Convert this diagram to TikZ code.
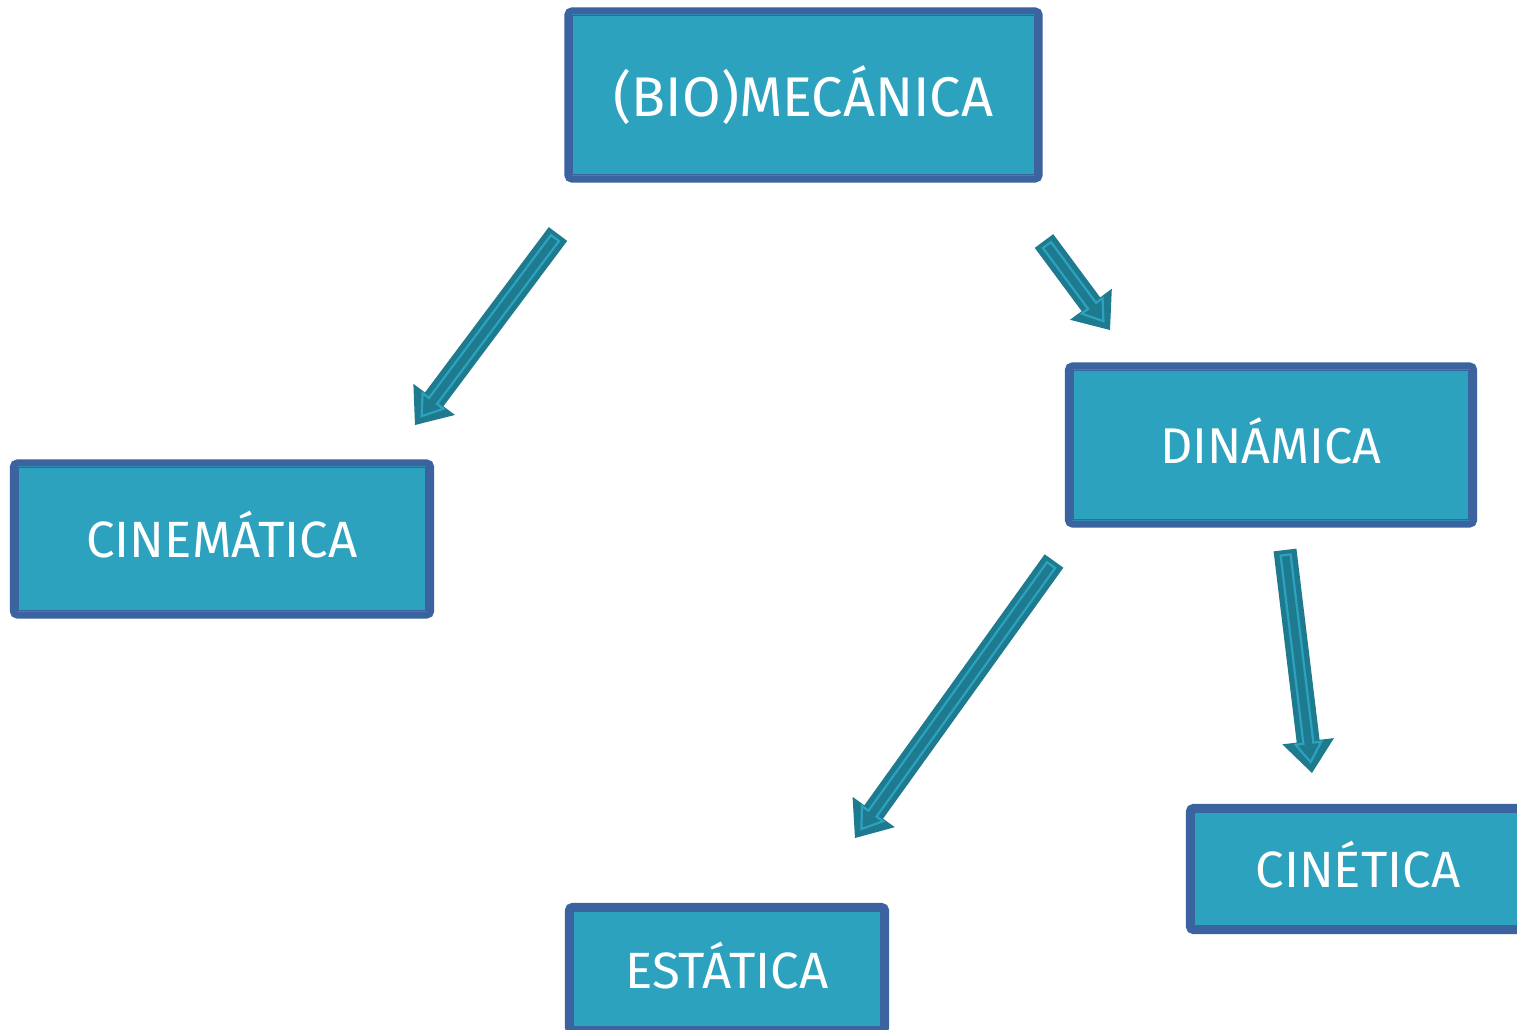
\documentclass[tikz,border=0pt]{standalone}
\usepackage{fontspec}
\setmainfont{Fira Sans}
\usetikzlibrary{calc}
\definecolor{boxfill}{HTML}{2CA2BF}
\definecolor{boxedge}{HTML}{3A63A0}
\definecolor{arrowdark}{HTML}{1E7A8E}
\definecolor{arrowlight}{HTML}{2CA2BF}
\tikzset{
  conceptbox/.style={draw=boxedge, fill=boxfill, line width=0.07cm, rounded corners=0.04cm,
    inner sep=0pt, text=white, text height=10.8pt, text depth=0pt},
  innerline/.style={draw=boxedge, line width=0.018cm},
  arrowbody/.style={fill=arrowdark},
  arrowinner/.style={draw=arrowlight, line width=0.022cm, line join=miter},
}
\newcommand\blockarrow[2]{%
  \coordinate (ba-h) at ($(#2)!0.32cm!(#1)$);
  \fill[arrowbody] ($(#1)!0.115cm!90:(#2)$) -- ($(ba-h)!0.115cm!90:(#2)$) -- ($(ba-h)!0.26cm!90:(#2)$) -- (#2)
     -- ($(ba-h)!0.26cm!-90:(#2)$) -- ($(ba-h)!0.115cm!-90:(#2)$) -- ($(#1)!0.115cm!-90:(#2)$) -- cycle;
  \coordinate (ba-s) at ($(#1)!0.05cm!(#2)$);
  \coordinate (ba-e) at ($(#2)!0.11cm!(#1)$);
  \coordinate (ba-hh) at ($(ba-e)!0.19cm!(#1)$);
  \draw[arrowinner] ($(ba-s)!0.05cm!90:(ba-e)$) -- ($(ba-hh)!0.05cm!90:(ba-e)$) -- ($(ba-hh)!0.13cm!90:(ba-e)$) -- (ba-e)
     -- ($(ba-hh)!0.13cm!-90:(ba-e)$) -- ($(ba-hh)!0.05cm!-90:(ba-e)$) -- ($(ba-s)!0.05cm!-90:(ba-e)$) -- cycle;
}
\begin{document}
\begin{tikzpicture}[x=0.01cm,y=-0.01cm]
\useasboundingbox (0,0) rectangle (1517,1030);
\clip (0,0) rectangle (1517,1030);
\fill[white] (0,0) rectangle (1517,1030);

\node[conceptbox, minimum width=4.71cm, minimum height=1.68cm, text height=12.5pt, font=\fontsize{15.9pt}{19pt}\selectfont] (bio) at (803.5,95) {(BIO)MECÁNICA};
\node[conceptbox, minimum width=4.17cm, minimum height=1.52cm, font=\fontsize{14.5pt}{17pt}\selectfont] (cin) at (222,539) {CINEMÁTICA};
\node[conceptbox, minimum width=4.05cm, minimum height=1.58cm, font=\fontsize{14.3pt}{17pt}\selectfont] (din) at (1271,445) {DINÁMICA};
\node[conceptbox, minimum width=3.37cm, minimum height=1.23cm, font=\fontsize{14.5pt}{17pt}\selectfont] (cie) at (1358,869) {CINÉTICA};
\node[conceptbox, minimum width=3.17cm, minimum height=1.25cm, font=\fontsize{14.5pt}{17pt}\selectfont] (est) at (727,969) {ESTÁTICA};

\foreach \b in {bio,cin,din,cie,est}{
  \draw[innerline] ([shift={(8,8)}]\b.north west) rectangle ([shift={(-8,-8)}]\b.south east);
}

\coordinate (a1s) at (558,234); \coordinate (a1e) at (415,425);
\coordinate (a2s) at (1044,241); \coordinate (a2e) at (1110,330);
\coordinate (a3s) at (1054,561); \coordinate (a3e) at (855,838);
\coordinate (a4s) at (1285,550); \coordinate (a4e) at (1312,773);
\blockarrow{a1s}{a1e}
\blockarrow{a2s}{a2e}
\blockarrow{a3s}{a3e}
\blockarrow{a4s}{a4e}
\end{tikzpicture}
\end{document}
